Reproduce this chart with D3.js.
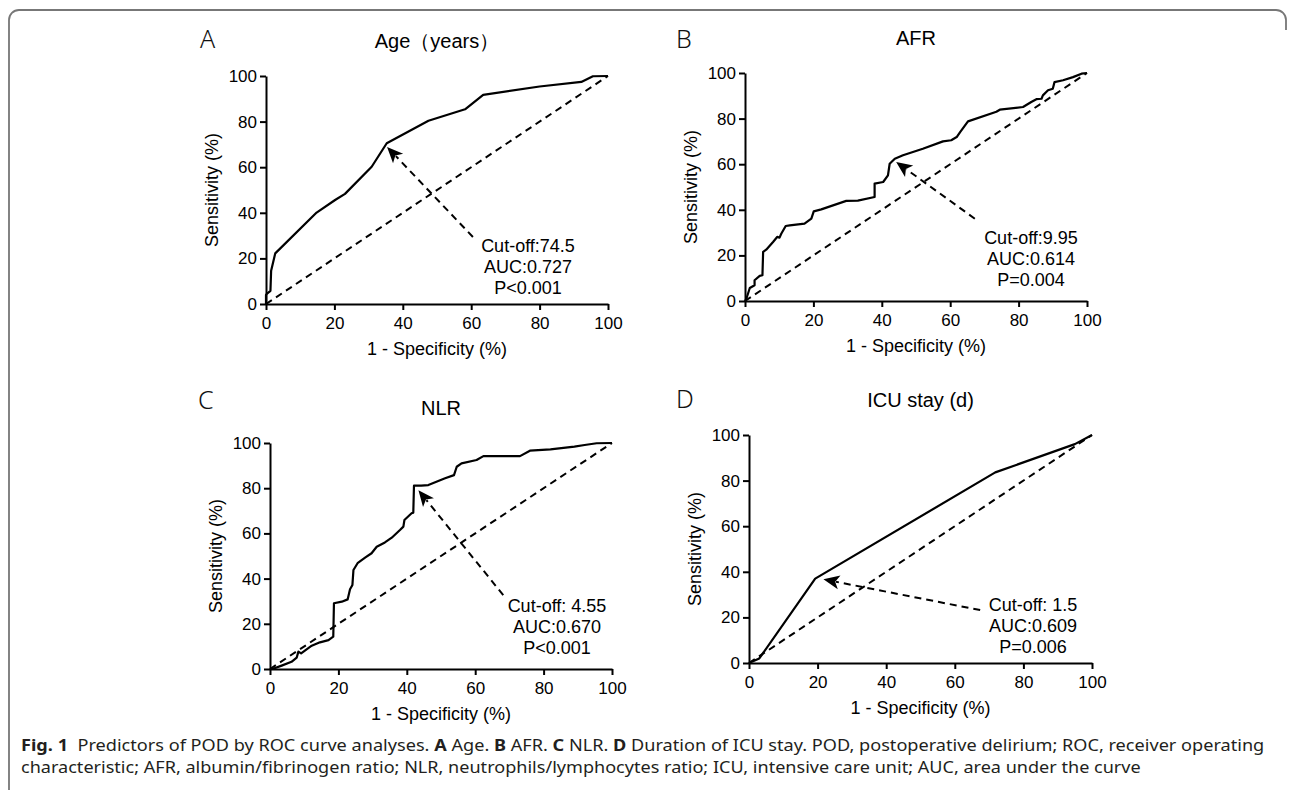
<!DOCTYPE html>
<html><head><meta charset="utf-8">
<script src="https://cdn.jsdelivr.net/npm/d3@7"></script>
<style>body{margin:0;background:#fff}svg{display:block}</style>
</head><body>
<svg id="c" width="1292" height="790"></svg>
<script>
// ---------- data ----------
const tickValues = [0, 20, 40, 60, 80, 100];
const panelLetters = ["A", "B", "C", "D"];
const panelTitles = ["Age（years）", "AFR", "NLR", "ICU stay (d)"];
const xAxisTitle = "1 - Specificity (%)";
const yAxisTitle = "Sensitivity (%)";

const ageFpr = [0, 0, 0.4, 1.3, 1.5, 2.7, 14.8, 20.2, 23.1, 30.9, 35.3, 47.5, 58.2, 63.5, 80, 92.2, 95.6, 100];
const ageTpr = [0, 4, 4.7, 5.8, 14.6, 22.2, 40.1, 45.6, 48.3, 60.2, 70.5, 80.4, 85.4, 91.7, 95.4, 97.4, 99.9, 100];

const afrFpr = [0, 0.4, 1.4, 2.8, 2.8, 4.3, 5.1, 5.3, 6.2, 8.2, 9.4, 10.1, 10.6, 11.9, 13.1, 17.4, 19.4, 20.1, 22.3, 29.6, 33.0, 37.9, 37.9, 40.4, 41.8, 42.3, 43.8, 46.2, 52.0, 57.9, 60.3, 61.9, 62.9, 65.2, 73.5, 74.5, 81.3, 83.7, 85.2, 86.7, 87.1, 88.6, 90.0, 90.5, 93.0, 95.9, 98.4, 100];
const afrTpr = [0, 1, 5.7, 6.9, 9.1, 11.0, 11.3, 21.5, 22.5, 25.9, 28.1, 27.8, 29.5, 32.9, 33.2, 33.9, 36.1, 39.3, 40.2, 43.9, 44.0, 45.6, 51.5, 52.2, 55.1, 60.2, 62.4, 63.9, 66.8, 70.0, 70.5, 71.9, 74.1, 78.8, 83.0, 83.9, 85.1, 87.3, 88.5, 88.7, 90.2, 92.4, 93.1, 96.0, 96.8, 98.2, 99.7, 100];

const nlrFpr = [0, 0.7, 3.4, 6.3, 7.8, 8.3, 9.1, 10.7, 12.2, 14.6, 17.1, 18.5, 18.7, 21.0, 22.7, 23.4, 24.1, 24.4, 25.6, 27.8, 29.7, 31.2, 33.6, 35.6, 38.0, 39.0, 39.3, 41.4, 41.9, 42.1, 44.2, 46.3, 51.2, 53.8, 54.6, 56.0, 60.4, 62.4, 73.1, 76.0, 82.0, 89.0, 92.0, 95.5, 100];
const nlrTpr = [0, 0, 1.5, 3.2, 5.0, 7.7, 6.9, 8.7, 10.3, 11.8, 12.8, 14.3, 29.1, 29.8, 30.8, 35.3, 37.2, 43.8, 46.8, 49.3, 51.2, 54.1, 56.0, 58.1, 61.5, 63.0, 65.9, 68.9, 69.2, 81.1, 81.1, 81.4, 84.4, 85.8, 89.5, 91.0, 92.5, 94.2, 94.2, 96.6, 97.2, 98.4, 99.1, 99.9, 100];

const icuFpr = [0, 3, 19.3, 71.8, 95, 100];
const icuTpr = [0, 2, 37, 83.6, 96, 100];

const cutoffLabels = ["Cut-off:74.5", "Cut-off:9.95", "Cut-off: 4.55", "Cut-off: 1.5"];
const aucLabels = ["AUC:0.727", "AUC:0.614", "AUC:0.670", "AUC:0.609"];
const pLabels = ["P<0.001", "P=0.004", "P<0.001", "P=0.006"];
// cut-off points (arrow targets) and arrow tails, in axis units
const cutoffFpr = [35.4, 44.2, 43.4, 21.7];
const cutoffTpr = [68.9, 61.0, 79.1, 36.7];
const arrowTailFpr = [60.5, 67.2, 68.2, 67.4];
const arrowTailTpr = [29.4, 36.1, 32.7, 23.2];

const captionLine1 = [
  ["Fig. 1", true], ["  Predictors of POD by ROC curve analyses. ", false],
  ["A", true], [" Age. ", false], ["B", true], [" AFR. ", false],
  ["C", true], [" NLR. ", false], ["D", true],
  [" Duration of ICU stay. POD, postoperative delirium; ROC, receiver operating", false]
];
const captionLine2 = "characteristic; AFR, albumin/fibrinogen ratio; NLR, neutrophils/lymphocytes ratio; ICU, intensive care unit; AUC, area under the curve";

// ---------- layout ----------
const layout = [
  {x0: 266, x1: 608, y0: 304, y1: 76, letterX: 200, letterY: 48, labX: 528, labY: 252},
  {x0: 745, x1: 1087, y0: 301, y1: 73, letterX: 676, letterY: 48, labX: 1031, labY: 244},
  {x0: 270, x1: 612, y0: 669, y1: 443, letterX: 198, letterY: 409, labX: 557, labY: 612},
  {x0: 749, x1: 1092, y0: 663, y1: 435, letterX: 676, letterY: 408, labX: 1033, labY: 611}
];
const series = [[ageFpr, ageTpr], [afrFpr, afrTpr], [nlrFpr, nlrTpr], [icuFpr, icuTpr]];

const svg = d3.select("#c");
const FONT = "'Liberation Sans', Arial, sans-serif";

// frame
svg.append("path")
  .attr("d", "M9,790 L9,20 A10,10 0 0 1 19,10 L1276,10 A10,10 0 0 1 1286,20 L1286,30")
  .attr("fill", "none").attr("stroke", "#777").attr("stroke-width", 1.8);

layout.forEach((L, i) => {
  const x = d3.scaleLinear().domain([0, 100]).range([L.x0, L.x1]);
  const y = d3.scaleLinear().domain([0, 100]).range([L.y0, L.y1]);
  const g = svg.append("g");

  g.append("text").attr("x", L.letterX).attr("y", L.letterY)
    .attr("font-family", "'Noto Sans', 'Open Sans', sans-serif").attr("font-weight", 300)
    .attr("font-size", 25).attr("fill", "#111").text(panelLetters[i]);
  g.append("text").attr("x", (L.x0 + L.x1) / 2).attr("y", L.y1 - 28)
    .attr("text-anchor", "middle").attr("font-family", FONT).attr("font-size", 20)
    .attr("fill", "#000").text(panelTitles[i]);

  const xa = g.append("g").attr("transform", `translate(0,${L.y0})`)
    .call(d3.axisBottom(x).tickValues(tickValues).tickSize(6).tickSizeOuter(0).tickPadding(7));
  const ya = g.append("g").attr("transform", `translate(${L.x0},0)`)
    .call(d3.axisLeft(y).tickValues(tickValues).tickSize(6).tickSizeOuter(0).tickPadding(3));
  [xa, ya].forEach(a => {
    a.selectAll("path.domain").attr("stroke", "#000").attr("stroke-width", 2);
    a.selectAll(".tick line").attr("stroke", "#000").attr("stroke-width", 2);
    a.selectAll(".tick text").attr("font-family", FONT).attr("font-size", 17).attr("fill", "#000");
  });

  g.append("text").attr("x", (L.x0 + L.x1) / 2).attr("y", L.y0 + 51)
    .attr("text-anchor", "middle").attr("font-family", FONT).attr("font-size", 18)
    .attr("fill", "#000").text(xAxisTitle);
  g.append("text").attr("transform", `translate(${L.x0 - 54},${(L.y0 + L.y1) / 2}) rotate(-90)`)
    .attr("text-anchor", "middle").attr("dominant-baseline", "central")
    .attr("font-family", FONT).attr("font-size", 18).attr("fill", "#000").text(yAxisTitle);

  g.append("line").attr("x1", x(0)).attr("y1", y(0)).attr("x2", x(100)).attr("y2", y(100))
    .attr("stroke", "#000").attr("stroke-width", 2).attr("stroke-dasharray", "7,5");

  const [fx, ty] = series[i];
  const pts = fx.map((v, k) => [v, ty[k]]);
  g.append("path").datum(pts)
    .attr("d", d3.line().x(d => x(d[0])).y(d => y(d[1])))
    .attr("fill", "none").attr("stroke", "#000").attr("stroke-width", 2.2)
    .attr("stroke-linejoin", "round");

  const tx = x(cutoffFpr[i]), tyy = y(cutoffTpr[i]);
  const sx = x(arrowTailFpr[i]), sy = y(arrowTailTpr[i]);
  const ang = Math.atan2(sy - tyy, sx - tx);
  const headLen = 16, headW = 7;
  const bx = tx + Math.cos(ang) * headLen * 0.8, by = tyy + Math.sin(ang) * headLen * 0.8;
  g.append("line").attr("x1", sx).attr("y1", sy).attr("x2", bx).attr("y2", by)
    .attr("stroke", "#000").attr("stroke-width", 2).attr("stroke-dasharray", "7,5");
  const c = Math.cos(ang), s = Math.sin(ang);
  const p = (a, b) => [tx + a * c - b * s, tyy + a * s + b * c];
  const head = [p(0, 0), p(headLen, -headW), p(headLen * 0.75, 0), p(headLen, headW)];
  g.append("path").attr("d", "M" + head.map(q => q.join(",")).join("L") + "Z").attr("fill", "#000");

  const lab = g.append("text").attr("font-family", FONT).attr("font-size", 18)
    .attr("fill", "#000").attr("text-anchor", "middle");
  [cutoffLabels[i], aucLabels[i], pLabels[i]].forEach((t, k) => {
    lab.append("tspan").attr("x", L.labX).attr("y", L.labY + k * 21).text(t);
  });
});

// caption
const CAPFONT = "'Noto Sans', 'Open Sans', sans-serif";
function fitLine(el, left, width) {
  const w = el.node().getComputedTextLength();
  el.attr("transform", `translate(${left},0) scale(${width / w},1)`);
}
const c1 = svg.append("text").attr("x", 0).attr("y", 751)
  .attr("font-family", CAPFONT).attr("font-size", 16.5).attr("fill", "#231f20")
  .attr("xml:space", "preserve").style("white-space", "pre");
captionLine1.forEach(([t, b]) => c1.append("tspan").attr("font-weight", b ? 700 : 400).text(t));
fitLine(c1, 21, 1244);
const c2 = svg.append("text").attr("x", 0).attr("y", 773)
  .attr("font-family", CAPFONT).attr("font-size", 16.5).attr("fill", "#231f20")
  .text(captionLine2);
fitLine(c2, 21, 1120);
</script>
</body></html>
